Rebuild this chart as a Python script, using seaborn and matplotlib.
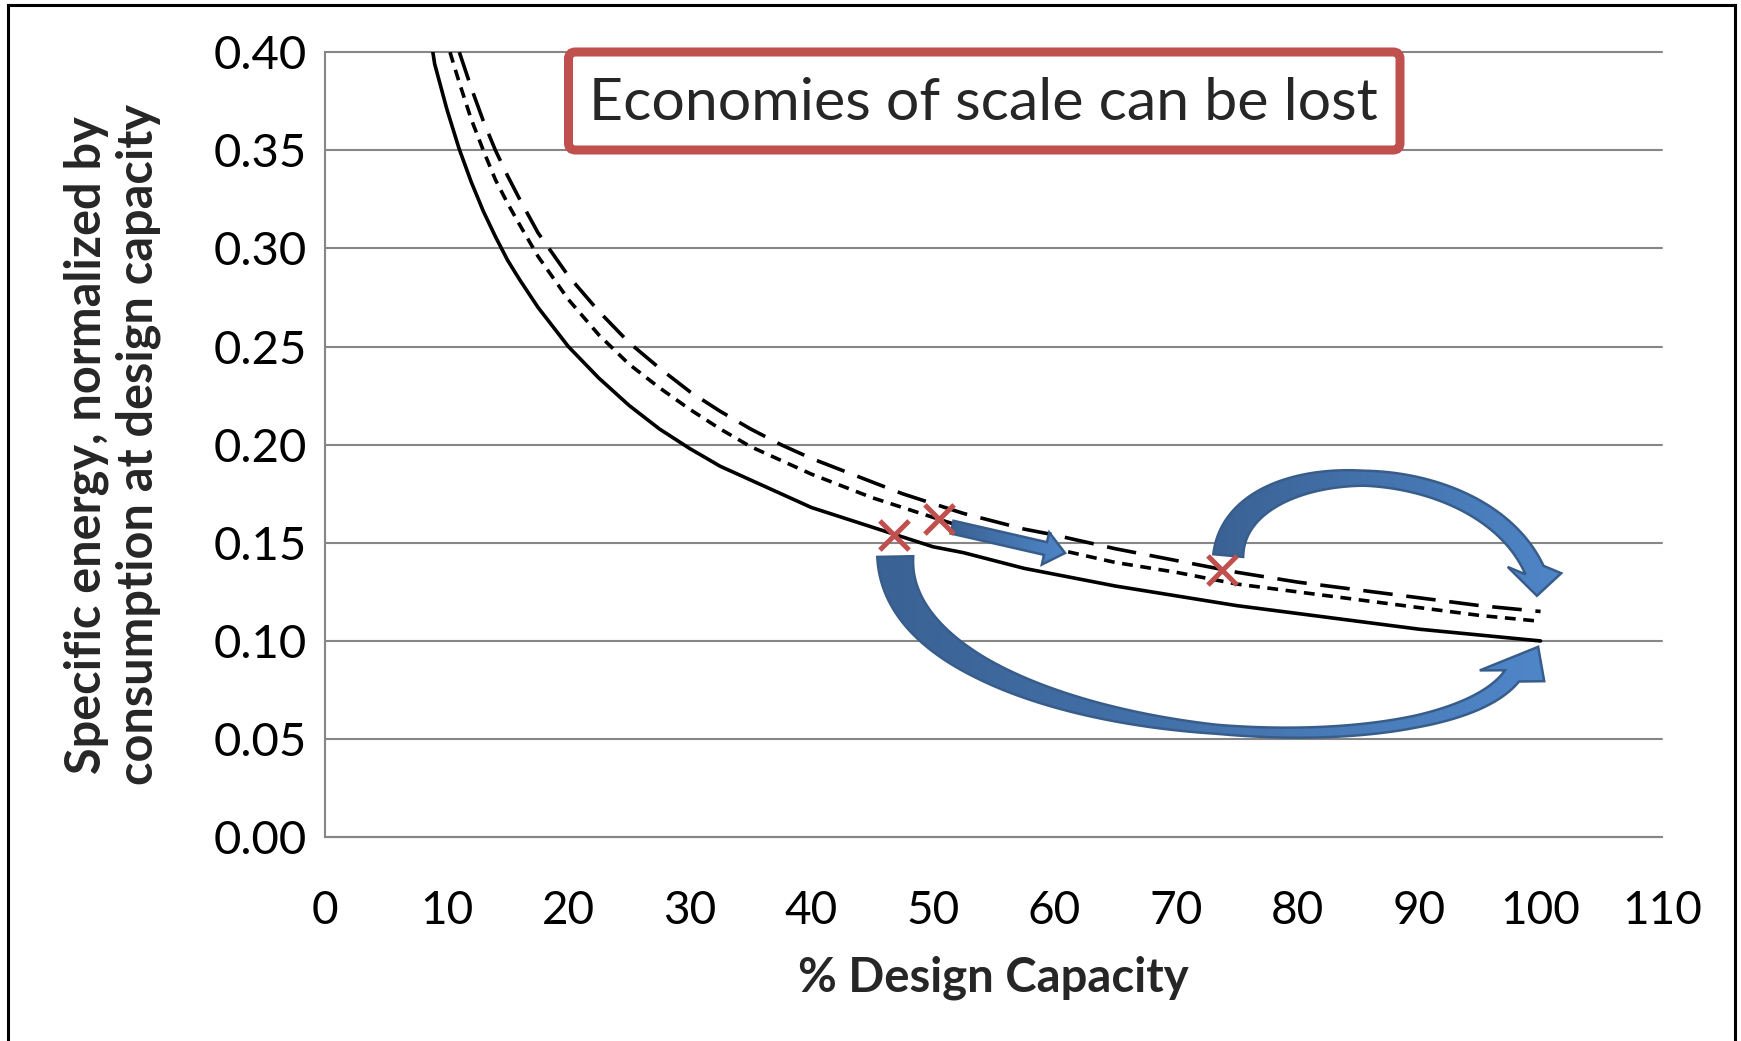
import numpy as np
import pandas as pd
import matplotlib
matplotlib.use("Agg")
import matplotlib.pyplot as plt
import seaborn as sns
from matplotlib.patches import Polygon, FancyBboxPatch
from matplotlib.lines import Line2D
from matplotlib.colors import LinearSegmentedColormap
from matplotlib.transforms import IdentityTransform

# ---- data: specific energy vs. % design capacity -------------------------
cap_base = [8.85, 9, 10, 11, 12, 13, 14, 15, 16, 17.5, 20, 22.5, 25, 27.5, 30,
            32.5, 35, 37.5, 40, 42.5, 45, 47.5, 50, 52.5, 55, 57.5, 60, 65,
            70, 75, 80, 85, 90, 95, 100]
energy_base = [0.400, 0.394, 0.371, 0.351, 0.334, 0.319, 0.306, 0.294, 0.284,
               0.270, 0.250, 0.234, 0.220, 0.208, 0.198, 0.189, 0.182, 0.175,
               0.168, 0.163, 0.158, 0.153, 0.148, 0.145, 0.141, 0.137, 0.134,
               0.128, 0.123, 0.118, 0.114, 0.110, 0.106, 0.103, 0.100]

cap_mid = [10.26, 11, 12, 13, 14, 15, 16, 17.5, 20, 22.5, 25, 27.5, 30, 32.5,
           35, 37.5, 40, 42.5, 45, 47.5, 50, 52.5, 55, 57.5, 60, 65, 70, 75,
           80, 85, 90, 95, 100]
energy_mid = [0.400, 0.385, 0.366, 0.350, 0.335, 0.323, 0.312, 0.296, 0.274,
              0.256, 0.241, 0.229, 0.218, 0.208, 0.199, 0.192, 0.185, 0.179,
              0.173, 0.168, 0.163, 0.158, 0.154, 0.150, 0.147, 0.140, 0.135,
              0.129, 0.125, 0.121, 0.117, 0.113, 0.110]

cap_high = [11.03, 12, 13, 14, 15, 16, 17.5, 20, 22.5, 25, 27.5, 30, 32.5, 35,
            37.5, 40, 42.5, 45, 47.5, 50, 52.5, 55, 57.5, 60, 65, 70, 75, 80,
            85, 90, 95, 100]
energy_high = [0.400, 0.382, 0.365, 0.350, 0.337, 0.325, 0.308, 0.286, 0.268,
               0.252, 0.239, 0.227, 0.217, 0.208, 0.200, 0.193, 0.187, 0.181,
               0.175, 0.170, 0.165, 0.161, 0.157, 0.154, 0.147, 0.141, 0.135,
               0.130, 0.126, 0.122, 0.118, 0.115]

# operating points marked on the curves
point_cap = [46.8, 50.5, 73.8]
point_energy = [0.154, 0.162, 0.136]

x_ticks = [0, 10, 20, 30, 40, 50, 60, 70, 80, 90, 100, 110]
y_ticks = [0.00, 0.05, 0.10, 0.15, 0.20, 0.25, 0.30, 0.35, 0.40]

title_text = "Economies of scale can be lost"
x_label = "% Design Capacity"
y_label = "Specific energy, normalized by\nconsumption at design capacity"

# ---- style ----------------------------------------------------------------
sns.set_style("white")
plt.rcParams["font.family"] = ["Lato", "DejaVu Sans"]

W, H, DPI = 1741, 1041, 100
fig = plt.figure(figsize=(W / DPI, H / DPI), dpi=DPI)
fig.patch.set_facecolor("white")

ax_l, ax_r, ax_t, ax_b = 325.3, 1662.1, 52.2, 837.2
ax = fig.add_axes([ax_l / W, 1 - ax_b / H, (ax_r - ax_l) / W, (ax_b - ax_t) / H])
XLIM, YLIM = (0, 110), (0, 0.40)
ax.set_xlim(*XLIM)
ax.set_ylim(*YLIM)

GRID = "#868686"
RED = "#C0504D"

curves = pd.concat([
    pd.DataFrame({"capacity": cap_base, "energy": energy_base, "series": "base"}),
    pd.DataFrame({"capacity": cap_mid, "energy": energy_mid, "series": "mid"}),
    pd.DataFrame({"capacity": cap_high, "energy": energy_high, "series": "high"}),
], ignore_index=True)

sns.lineplot(data=curves, x="capacity", y="energy", style="series",
             dashes={"base": "", "mid": (3.0, 2.1), "high": (8.2, 3.8)},
             color="black", lw=2.6, legend=False, estimator=None,
             sort=False, ax=ax, zorder=3)

sns.scatterplot(x=point_cap, y=point_energy, marker="x", s=21 ** 2,
                color=RED, linewidth=3.6, ax=ax, zorder=6, legend=False)

# ---- axes cosmetics -------------------------------------------------------
ax.set_xticks(x_ticks)
ax.set_yticks(y_ticks)
ax.set_yticklabels([f"{v:.2f}" for v in y_ticks])
ax.yaxis.grid(True, color=GRID, lw=1.5)
ax.xaxis.grid(False)
for gl in ax.get_ygridlines():
    gl.set_clip_on(False)
for side in ("top", "right"):
    ax.spines[side].set_visible(False)
for side in ("left", "bottom"):
    ax.spines[side].set_color(GRID)
    ax.spines[side].set_linewidth(1.5)
ax.tick_params(axis="x", direction="out", length=13, width=1.5, color=GRID,
               labelsize=33, pad=25, labelcolor="black")
ax.tick_params(axis="y", direction="out", length=10, width=1.5, color=GRID,
               labelsize=34, pad=3, labelcolor="black")

ax.set_xlabel(x_label, fontsize=34, fontweight="bold")
ax.xaxis.set_label_coords(0.5, (ax_b - 992) / (ax_b - ax_t))
ax.xaxis.label.set_verticalalignment("baseline")
ax.set_ylabel(y_label, fontsize=35, fontweight="bold", linespacing=1.18)
ax.yaxis.set_label_coords((112 - ax_l) / (ax_r - ax_l), 0.5)
ax.yaxis.label.set_verticalalignment("center")

# ---- block arrows ---------------------------------------------------------
ARROW_CMAP = LinearSegmentedColormap.from_list("arrow", ["#3A6294", "#4F86C8"])


def cubic(p, n=140):
    t = np.linspace(0, 1, n)[:, None]
    pts = ((1 - t) ** 3 * p[0] + 3 * (1 - t) ** 2 * t * p[1]
           + 3 * (1 - t) * t ** 2 * p[2] + t ** 3 * p[3])
    return pts, t.ravel()


def block_arrow(ctrl, widths, head, ec="#385D8A"):
    to_px = ax.transData.transform
    cp = to_px(np.asarray(ctrl, float))
    pts, t = cubic(cp)
    d = np.gradient(pts, axis=0)
    d /= np.linalg.norm(d, axis=1)[:, None]
    nrm = np.column_stack([-d[:, 1], d[:, 0]])
    tw, ww = zip(*widths)
    w = np.interp(t, tw, ww)[:, None] / 2
    left, right = pts + nrm * w, pts - nrm * w
    a, tip, b = to_px(np.asarray(head, float))
    if np.linalg.norm(a - left[-1]) > np.linalg.norm(b - left[-1]):
        a, b = b, a
    poly = np.vstack([left, [a, tip, b], right[::-1]])
    outline = Polygon(poly, closed=True, transform=IdentityTransform(),
                      fc="none", ec=ec, lw=1.8, joinstyle="miter", zorder=4.1)
    ax.add_patch(outline)
    # left-to-right shading inside the outline
    inv = ax.transData.inverted()
    (x0, y0), (x1, y1) = inv.transform([poly.min(axis=0), poly.max(axis=0)])
    grad = np.linspace(0, 1, 256)[None, :]
    img = ax.imshow(grad, cmap=ARROW_CMAP, extent=(x0, x1, y0, y1),
                    aspect="auto", origin="lower", zorder=4,
                    interpolation="bilinear")
    img.set_clip_path(outline)


# short straight arrow along the middle curve
block_arrow([(51.57, 0.158), (54.13, 0.1544), (56.70, 0.1507), (59.26, 0.1471)],
            [(0, 13), (1, 13)],
            [(59.57, 0.1553), (60.87, 0.1448), (58.96, 0.1389)])

# upper curved arrow
block_arrow([(74.30, 0.1435), (74.94, 0.1973), (95.01, 0.1973), (99.5, 0.1361)],
            [(0, 30), (0.5, 15), (1, 20)],
            [(97.3, 0.1377), (99.7, 0.123), (101.7, 0.1345)])

# lower curved arrow
block_arrow([(46.9, 0.143), (46.88, 0.0490), (91.15, 0.0291), (97.65, 0.0822)],
            [(0, 36), (0.25, 22), (0.55, 9), (0.8, 12), (1, 18)],
            [(95.0, 0.085), (99.8, 0.097), (100.3, 0.0795)])

ax.set_xlim(*XLIM)
ax.set_ylim(*YLIM)

# ---- headline box -----------------------------------------------------------
bx0, bx1, by0, by1 = 568.5, 1400, 52, 150
box = FancyBboxPatch((bx0, H - by1), bx1 - bx0, by1 - by0,
                     boxstyle="round,pad=0,rounding_size=7",
                     transform=IdentityTransform(), fc="white", ec=RED,
                     lw=6.5, zorder=10)
fig.add_artist(box)
fig.text(983 / W, 1 - 104 / H, title_text, fontsize=42.5,
         ha="center", va="center", zorder=11)

# ---- outer frame (open at the bottom) -----------------------------------
fx0, fx1, fy0 = 8, 1735, 5
for xs, ys in (([fx0, fx0], [H - fy0, -5]), ([fx0, fx1], [H - fy0, H - fy0]),
               ([fx1, fx1], [H - fy0, -5])):
    fig.add_artist(Line2D(xs, ys, transform=IdentityTransform(), color="black",
                          lw=2.2, solid_capstyle="projecting"))

fig.savefig("out.png", dpi=DPI)
